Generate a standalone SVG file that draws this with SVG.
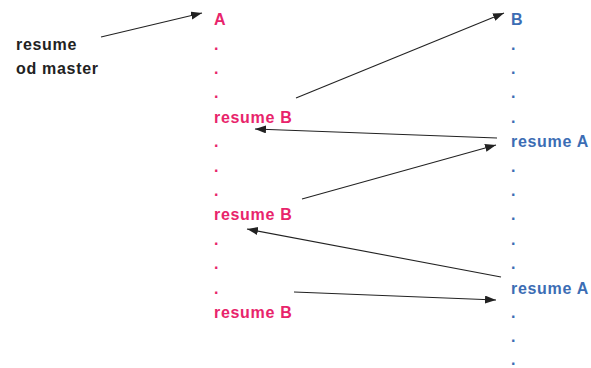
<svg xmlns="http://www.w3.org/2000/svg" width="591" height="368" viewBox="0 0 591 368">
<style>
text{font-family:"Liberation Sans",Arial,sans-serif;font-weight:bold;font-size:16px;letter-spacing:0.7px}
.a{fill:#E8246B}
.b{fill:#3C6DB4}
.k{fill:#222}
.c{stroke:#222;stroke-width:1.1;fill:none;marker-end:url(#ah)}
</style>
<defs>
<marker id="ah" markerUnits="userSpaceOnUse" markerWidth="12" markerHeight="10" refX="11" refY="4" orient="auto">
<path d="M0,0 L11,4 L0,8 Z" fill="#222"/>
</marker>
</defs>
<g id="master">
<text class="k" x="16" y="50">resume</text>
<text class="k" x="16" y="74">od master</text>
</g>
<g id="colA">
<text class="a" x="214" y="25">A</text>
<text class="a" x="214" y="50">.</text>
<text class="a" x="214" y="74">.</text>
<text class="a" x="214" y="98">.</text>
<text class="a" x="214" y="123">resume B</text>
<text class="a" x="214" y="147">.</text>
<text class="a" x="214" y="172">.</text>
<text class="a" x="214" y="196">.</text>
<text class="a" x="214" y="220">resume B</text>
<text class="a" x="214" y="245">.</text>
<text class="a" x="214" y="269">.</text>
<text class="a" x="214" y="294">.</text>
<text class="a" x="214" y="318">resume B</text>
</g>
<g id="colB">
<text class="b" x="511" y="25">B</text>
<text class="b" x="511" y="50">.</text>
<text class="b" x="511" y="74">.</text>
<text class="b" x="511" y="98">.</text>
<text class="b" x="511" y="123">.</text>
<text class="b" x="511" y="147">resume A</text>
<text class="b" x="511" y="172">.</text>
<text class="b" x="511" y="196">.</text>
<text class="b" x="511" y="220">.</text>
<text class="b" x="511" y="245">.</text>
<text class="b" x="511" y="269">.</text>
<text class="b" x="511" y="294">resume A</text>
<text class="b" x="511" y="318">.</text>
<text class="b" x="511" y="342">.</text>
<text class="b" x="511" y="365">.</text>
</g>
<g id="connectors">
<line class="c" x1="101" y1="37" x2="202" y2="13"/>
<line class="c" x1="296" y1="98" x2="504" y2="13"/>
<line class="c" x1="497" y1="138" x2="255" y2="129"/>
<line class="c" x1="302" y1="199" x2="496" y2="145"/>
<line class="c" x1="501" y1="277" x2="247" y2="229"/>
<line class="c" x1="294" y1="292" x2="496" y2="300"/>
</g>
</svg>
